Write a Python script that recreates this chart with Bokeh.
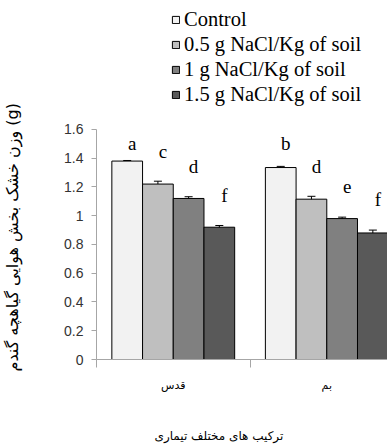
from bokeh.plotting import figure
from bokeh.models import (ColumnDataSource, Range1d, FixedTicker, Whisker, Title,
                          Legend, LegendItem)
from bokeh.core.properties import value
from bokeh.embed import file_html
from bokeh.resources import INLINE

# ---- data ----
cultivars = ["قدس", "بم"]
treatments = ["Control", "0.5 g NaCl/Kg of soil", "1 g NaCl/Kg of soil", "1.5 g NaCl/Kg of soil"]
colors = ["#f2f2f2", "#bfbfbf", "#808080", "#595959"]
qods_vals = [1.38, 1.22, 1.12, 0.92]
bam_vals = [1.335, 1.115, 0.98, 0.88]
qods_err = [0.004, 0.02, 0.012, 0.012]
bam_err = [0.008, 0.02, 0.01, 0.02]
qods_letters = ["a", "c", "d", "f"]
bam_letters = ["b", "d", "e", "f"]
y_ticks = [0, 0.2, 0.4, 0.6, 0.8, 1, 1.2, 1.4, 1.6]
y_title = "وزن خشک بخش هوایی گیاهچه گندم (g)"
x_title = "ترکیب های مختلف تیماری"

LETTER_GAP = 0.21   # letters sit this far above the error bar ...
LETTER_CAP = 1.50   # ... but never higher than this

p = figure(width=387, height=448, output_backend="svg", toolbar_location=None,
           x_range=Range1d(0, 290 / 153), y_range=Range1d(0, 352 / 144.2),
           min_border_left=0, min_border_right=0, min_border_top=8, min_border_bottom=88)
p.outline_line_color = None
p.xgrid.visible = False
p.ygrid.visible = False
p.background_fill_color = "white"

offsets = [-0.3, -0.1, 0.1, 0.3]
group_vals = [qods_vals, bam_vals]
group_errs = [qods_err, bam_err]
group_letters = [qods_letters, bam_letters]

legend_items = []
for i, t in enumerate(treatments):
    xs = [g + 0.5 + offsets[i] for g in range(len(cultivars))]
    tops = [group_vals[g][i] for g in range(len(cultivars))]
    errs = [group_errs[g][i] for g in range(len(cultivars))]
    lets = [group_letters[g][i] for g in range(len(cultivars))]
    upper = [a + b for a, b in zip(tops, errs)]
    src = ColumnDataSource(dict(x=xs, top=tops,
                                lower=[a - b for a, b in zip(tops, errs)],
                                upper=upper,
                                ly=[min(u + LETTER_GAP, LETTER_CAP) for u in upper],
                                lab=lets))
    r = p.vbar(x="x", top="top", width=0.2, source=src, fill_color=colors[i],
               line_color="black", line_width=1)
    legend_items.append(LegendItem(label=t, renderers=[r]))
    w = Whisker(base="x", lower="lower", upper="upper", source=src, dimension="height",
                line_color="black", line_width=1)
    w.upper_head.size = 8
    w.lower_head.size = 8
    w.upper_head.line_color = "black"
    w.lower_head.line_color = "black"
    p.add_layout(w)
    p.text(x="x", y="ly", text="lab", source=src, text_font=value("Liberation Serif"),
           text_font_size="19px", text_color="black", text_align="center",
           text_baseline="alphabetic", x_offset=5)

legend = Legend(items=legend_items, location=(75, 252), orientation="vertical",
                label_text_font="Liberation Serif", label_text_font_size="20.5px",
                label_text_color="black", glyph_width=9, glyph_height=9,
                label_height=25, label_standoff=4, spacing=0, padding=0,
                border_line_color=None, background_fill_alpha=0)
p.add_layout(legend, "center")

# y axis
ya = p.yaxis[0]
ya.ticker = FixedTicker(ticks=y_ticks)
ya.major_label_overrides = {0: "0", 1: "1"}
ya.bounds = (0, 1.6)
ya.axis_line_color = "#a6a6a6"
ya.major_tick_line_color = "#a6a6a6"
ya.major_tick_in = 0
ya.major_tick_out = 5
ya.minor_tick_line_color = None
ya.major_label_standoff = 8
ya.major_label_text_font = "Liberation Sans"
ya.major_label_text_font_size = "14px"
ya.major_label_text_color = "#333333"

# x axis
xa = p.xaxis[0]
xa.ticker = FixedTicker(ticks=[0.5, 1.5], minor_ticks=[0, 1, 2])
xa.major_label_overrides = {0.5: cultivars[0], 1.5: cultivars[1]}
xa.axis_line_color = "#a6a6a6"
xa.major_tick_line_color = None
xa.major_tick_in = 0
xa.major_tick_out = 0
xa.minor_tick_line_color = "#a6a6a6"
xa.minor_tick_in = 0
xa.minor_tick_out = 8
xa.major_label_standoff = 11
xa.major_label_text_font = "DejaVu Sans"
xa.major_label_text_font_size = "11px"
xa.major_label_text_color = "black"

# spacer between y axis and its title, then the title itself
p.add_layout(Title(text=" ", standoff=19, text_font="DejaVu Sans", text_font_size="13px",
                   text_font_style="normal"), "left")
p.add_layout(Title(text=y_title, align="left", offset=-12, standoff=4, vertical_align="top",
                   text_font="DejaVu Sans", text_font_size="16px",
                   text_font_style="normal", text_color="black"), "left")
# spacer between x axis and its title, then the title itself
p.add_layout(Title(text=" ", standoff=10, text_font="DejaVu Sans", text_font_size="12px",
                   text_font_style="normal"), "below")
p.add_layout(Title(text=x_title, align="left", offset=58, standoff=12,
                   text_font="DejaVu Sans", text_font_size="12px",
                   text_font_style="normal", text_color="black"), "below")

open("out.html", "w").write(file_html(p, INLINE))
